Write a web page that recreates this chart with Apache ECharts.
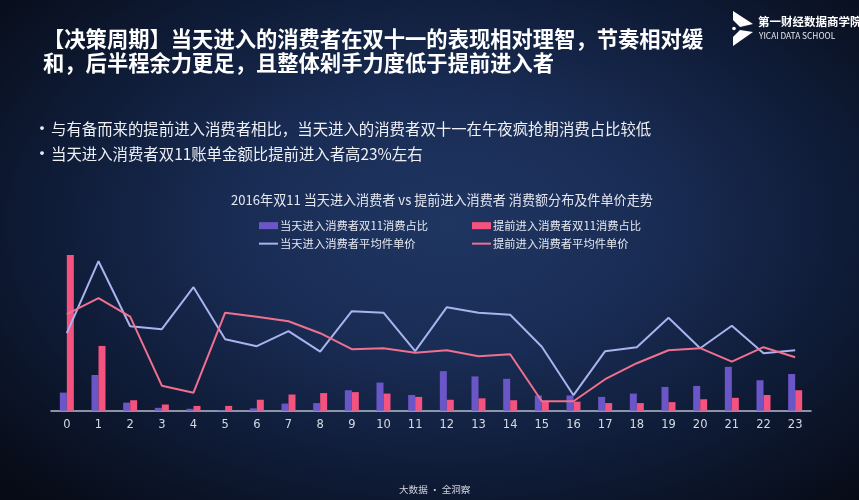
<!DOCTYPE html>
<html>
<head>
<meta charset="utf-8">
<script src="https://cdn.jsdelivr.net/npm/echarts@6/dist/echarts.min.js"></script>
<style>
html,body{margin:0;padding:0;width:859px;height:500px;overflow:hidden;}
body{background:radial-gradient(ellipse 70% 75% at 52% 45%, #1f3662 0%, #192c54 35%, #0e1a34 70%, #070b16 100%);}
#c{width:859px;height:500px;}
</style>
</head>
<body>
<div id="c"></div>
<script>
var hours = ['0','1','2','3','4','5','6','7','8','9','10','11','12','13','14','15','16','17','18','19','20','21','22','23'];
// share of Double-11 spend by hour (%)
var sameDayShare = [3.8,7.5,1.7,0.6,0.4,0.1,0.5,1.5,1.6,4.3,5.9,3.3,8.3,7.2,6.7,3.2,3.2,2.9,3.6,5.0,5.2,9.2,6.4,7.7];
var earlyShare   = [32.7,13.6,2.2,1.3,1.0,1.0,2.3,3.4,3.7,3.9,3.6,2.9,2.3,2.6,2.2,2.0,1.9,1.6,1.6,1.8,2.4,2.7,3.3,4.3];
// average unit price (relative units)
var sameDayPrice = [155,299,169,163,247,143,129,159,118,199,196,119,207,196,192,128,31,119,127,186,125,170,115,121];
var earlyPrice   = [193,225,188,50,36,196,188,179,155,123,125,116,121,109,113,19,19,63,95,121,125,98,127,107];

var names = ['当天进入消费者双11消费占比','提前进入消费者双11消费占比','当天进入消费者平均件单价','提前进入消费者平均件单价'];
var colors = ['#6a56c6','#f4527f','#a9b3ee','#f0708f'];
var FONT = '"Noto Sans CJK SC", "Noto Sans", sans-serif';

var chart = echarts.init(document.getElementById('c'), null, {renderer:'canvas'});
function legendAt(name, left, top, isLine){
  return {
    data:[name], left:left, top:top, orient:'horizontal',
    itemWidth:19, itemHeight:isLine?2:7, itemGap:0, padding:0,
    icon:'rect',
    textStyle:{color:'#e6e8f0', fontSize:11.3, fontFamily:FONT, padding:[0,0,0,-3]}
  };
}
var option = {
  backgroundColor:'transparent',
  animation:false,
  textStyle:{fontFamily:FONT},
  legend:[
    legendAt(names[0],259,220,false),
    legendAt(names[1],472,220,false),
    legendAt(names[2],259,238,true),
    legendAt(names[3],472,238,true)
  ],
  grid:{left:51,right:48,top:250.7,bottom:89.3,containLabel:false},
  xAxis:{
    type:'category', data:hours, boundaryGap:true,
    axisLine:{lineStyle:{color:'#b7bccb',width:1.5}},
    axisTick:{show:false},
    axisLabel:{color:'#d6d9e4',fontSize:11.5,margin:8,fontFamily:'"DejaVu Sans", sans-serif'}
  },
  yAxis:[
    {type:'value',min:0,max:33.6,show:false,splitLine:{show:false}},
    {type:'value',min:0,max:320,show:false,splitLine:{show:false}}
  ],
  series:[
    {name:names[0],type:'bar',data:sameDayShare,barWidth:7,barGap:'0%',itemStyle:{color:colors[0]},yAxisIndex:0},
    {name:names[1],type:'bar',data:earlyShare,barWidth:7,barGap:'0%',itemStyle:{color:colors[1]},yAxisIndex:0},
    {name:names[2],type:'line',data:sameDayPrice,yAxisIndex:1,symbol:'none',lineStyle:{color:colors[2],width:2},itemStyle:{color:colors[2]}},
    {name:names[3],type:'line',data:earlyPrice,yAxisIndex:1,symbol:'none',lineStyle:{color:colors[3],width:2},itemStyle:{color:colors[3]}}
  ],
  graphic:[
    {type:'text',left:43,top:28,style:{text:'【决策周期】当天进入的消费者在双十一的表现相对理智，节奏相对缓',fill:'#ffffff',font:'bold 21.3px '+FONT}},
    {type:'text',left:43,top:52,style:{text:'和，后半程余力更足，且整体剁手力度低于提前进入者',fill:'#ffffff',font:'bold 21.3px '+FONT}},
    {type:'text',left:33,top:119,style:{text:'•',fill:'#e8eaf2',font:'18px '+FONT}},
    {type:'text',left:51,top:121,style:{text:'与有备而来的提前进入消费者相比，当天进入的消费者双十一在午夜疯抢期消费占比较低',fill:'#eef0f6',font:'15.4px '+FONT}},
    {type:'text',left:33,top:144,style:{text:'•',fill:'#e8eaf2',font:'18px '+FONT}},
    {type:'text',left:51,top:146,style:{text:'当天进入消费者双11账单金额比提前进入者高23%左右',fill:'#eef0f6',font:'15.4px '+FONT}},
    {type:'text',left:231,top:193,style:{text:'2016年双11 当天进入消费者 vs 提前进入消费者 消费额分布及件单价走势',fill:'#e6e8f0',font:'13.1px '+FONT}},
    {type:'text',left:399,top:485,style:{text:'大数据 · 全洞察',fill:'#cdd1dc',font:'9.6px '+FONT}},
    {type:'polygon',shape:{points:[[733,11],[753,24],[740,27],[733,20]]},style:{fill:'#ffffff'}},
    {type:'polygon',shape:{points:[[740,30],[753,32],[733,46],[733,37]]},style:{fill:'#ffffff'}},
    {type:'circle',shape:{cx:734,cy:28.5,r:1.8},style:{fill:'#ffffff'}},
    {type:'text',left:758,top:16,style:{text:'第一财经数据商学院',fill:'#ffffff',font:'bold 11.5px '+FONT}},
    {type:'text',left:759,top:32,style:{text:'YICAI DATA SCHOOL',fill:'#e8eaf0',font:'8.3px '+FONT}}
  ]
};
chart.setOption(option);
</script>
</body>
</html>
